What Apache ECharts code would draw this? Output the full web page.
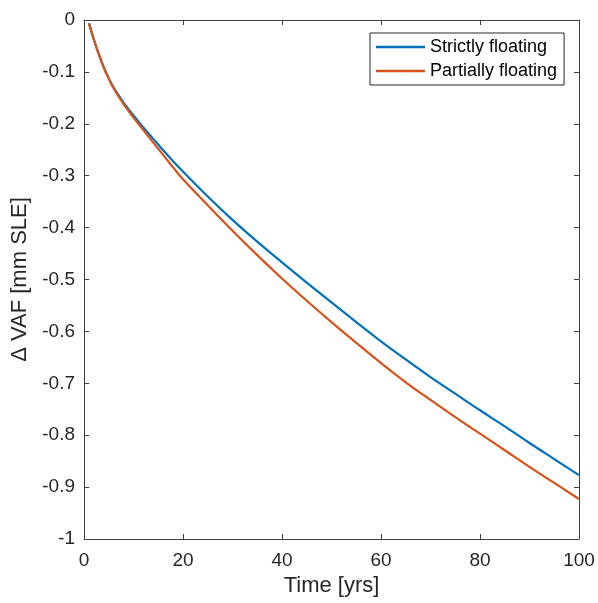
<!DOCTYPE html>
<html>
<head>
<meta charset="utf-8">
<script src="https://cdn.jsdelivr.net/npm/echarts@6/dist/echarts.min.js"></script>
<style>html,body{margin:0;padding:0;background:#fff;}#c{width:598px;height:603px;}</style>
</head>
<body>
<div id="c"></div>
<script>
var seriesNames = ['Strictly floating', 'Partially floating'];
var timeYrs = [1,2,3,4,5,6,8,10,12,14,16,18,20,25,30,35,40,45,50,55,60,65,70,75,80,85,90,95,100];
var strictlyFloating = [-0.006,-0.038,-0.066,-0.091,-0.112,-0.130,-0.159,-0.184,-0.207,-0.229,-0.251,-0.272,-0.292,-0.340,-0.385,-0.427,-0.467,-0.506,-0.544,-0.582,-0.619,-0.654,-0.688,-0.720,-0.752,-0.783,-0.815,-0.846,-0.877];
var partiallyFloating = [-0.006,-0.038,-0.066,-0.092,-0.113,-0.132,-0.162,-0.188,-0.212,-0.236,-0.260,-0.284,-0.307,-0.357,-0.406,-0.453,-0.498,-0.541,-0.582,-0.622,-0.661,-0.698,-0.732,-0.765,-0.797,-0.829,-0.861,-0.892,-0.923];
var xTickLabels = ['0','20','40','60','80','100'];
var yTickLabels = ['-1','-0.9','-0.8','-0.7','-0.6','-0.5','-0.4','-0.3','-0.2','-0.1','0'];

function pairs(xs, ys){ return xs.map(function(x,i){ return [x, ys[i]]; }); }
var font = 'Liberation Sans, Arial, Helvetica, sans-serif';
var axisCol = '#404040';
function xLab(v){ var i = Math.round(v/20); return (Math.abs(v - i*20) < 1e-6 && xTickLabels[i] !== undefined) ? xTickLabels[i] : ''; }
function yLab(v){ var i = Math.round((v+1)*10); return yTickLabels[i] !== undefined ? yTickLabels[i] : ''; }

var chart = echarts.init(document.getElementById('c'), null, {renderer:'canvas'});
chart.setOption({
  animation: false,
  backgroundColor: '#fff',
  grid: {left: 84, right: 19, top: 20, bottom: 64, containLabel: false},
  legend: {
    orient: 'vertical', left: 370, top: 33,
    padding: [5, 7, 5, 6], itemGap: 6, itemWidth: 49, itemHeight: 2.5,
    icon: 'rect',
    backgroundColor: '#fff', borderColor: '#262626', borderWidth: 1,
    textStyle: {fontFamily: font, fontSize: 18, lineHeight: 18, color: '#000', padding: [0,0,0,0]},
    data: seriesNames
  },
  xAxis: [{
    type: 'value', min: 0, max: 100, interval: 20,
    name: 'Time [yrs]', nameLocation: 'middle', nameGap: 34,
    nameTextStyle: {fontFamily: font, fontSize: 22, color: '#262626'},
    axisLine: {show: true, onZero: false, lineStyle: {color: axisCol, width: 1}},
    axisTick: {show: true, inside: true, length: 5, lineStyle: {color: axisCol}},
    axisLabel: {fontFamily: font, fontSize: 19, color: '#262626', margin: 12, formatter: xLab},
    splitLine: {show: false}
  },{
    type: 'value', min: 0, max: 100, interval: 20, position: 'top',
    axisLine: {show: true, onZero: false, lineStyle: {color: axisCol, width: 1}},
    axisTick: {show: true, inside: true, length: 5, lineStyle: {color: axisCol}},
    axisLabel: {show: false}, splitLine: {show: false}
  }],
  yAxis: [{
    type: 'value', min: -1, max: 0, interval: 0.1,
    name: '\u0394 VAF [mm SLE]', nameLocation: 'middle', nameGap: 52, nameRotate: 90,
    nameTextStyle: {fontFamily: font, fontSize: 22, color: '#262626'},
    axisLine: {show: true, onZero: false, lineStyle: {color: axisCol, width: 1}},
    axisTick: {show: true, inside: true, length: 5, lineStyle: {color: axisCol}},
    axisLabel: {fontFamily: font, fontSize: 19, color: '#262626', margin: 9, formatter: yLab},
    splitLine: {show: false}
  },{
    type: 'value', min: -1, max: 0, interval: 0.1, position: 'right',
    axisLine: {show: true, onZero: false, lineStyle: {color: axisCol, width: 1}},
    axisTick: {show: true, inside: true, length: 5, lineStyle: {color: axisCol}},
    axisLabel: {show: false}, splitLine: {show: false}
  }],
  series: [{
    name: seriesNames[0], type: 'line', data: pairs(timeYrs, strictlyFloating),
    smooth: 0.4, showSymbol: false, symbol: 'none',
    lineStyle: {color: '#0072BD', width: 2.2}, itemStyle: {color: '#0072BD'}
  },{
    name: seriesNames[1], type: 'line', data: pairs(timeYrs, partiallyFloating),
    smooth: 0.4, showSymbol: false, symbol: 'none',
    lineStyle: {color: '#D95319', width: 2.2}, itemStyle: {color: '#D95319'}
  }]
});
</script>
</body>
</html>
